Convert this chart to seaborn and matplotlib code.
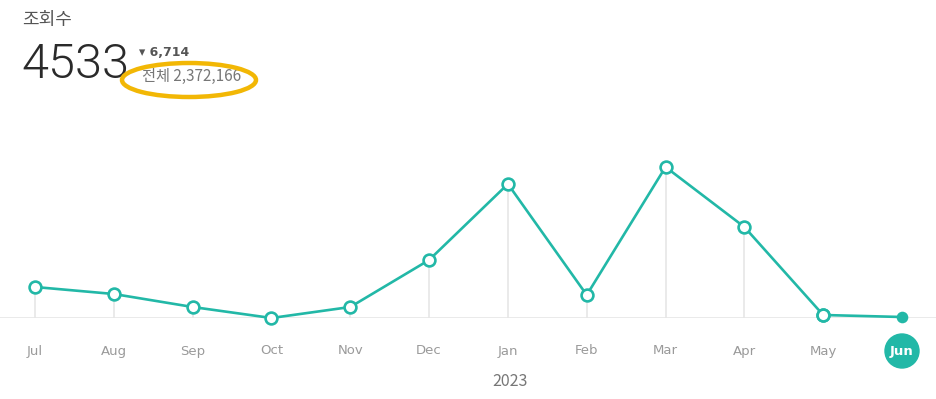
import matplotlib
matplotlib.use("Agg")
import matplotlib.pyplot as plt
from matplotlib.patches import Ellipse, Circle
import seaborn as sns
import pandas as pd

# Monthly views, Jul 2022 - Jun 2023
months = ["Jul", "Aug", "Sep", "Oct", "Nov", "Dec", "Jan", "Feb", "Mar", "Apr", "May", "Jun"]
views = [91000, 84000, 71000, 60000, 71000, 118000, 194000, 83000, 211000, 151000, 63000, 61000]

title_text = "조회수"
today_views = "4533"
change_text = "▾ 6,714"
total_text = "전체 2,372,166"
year_text = "2023"

TEAL = "#22b8a7"
GRID = "#e6e6e6"

sns.set_theme(style="white")
plt.rcParams["font.family"] = ["Noto Sans CJK KR", "DejaVu Sans"]

df = pd.DataFrame({"pos": range(len(months)), "month": months, "views": views})

W, H = 936, 399
fig = plt.figure(figsize=(W / 100, H / 100), dpi=100)
base_y, top_y = 318, 167
ax = fig.add_axes([0, 1 - base_y / H, 1, (base_y - top_y) / H])

step = (902 - 35) / 11
ax.set_xlim(-35 / step, 11 + (936 - 902) / step)
vmin, vmax = min(views), max(views)
ax.set_ylim(vmin, vmax)

# drop lines from each point to the baseline
ax.vlines(df["pos"], vmin, df["views"], color=GRID, lw=1.2, zorder=1)
ax.axhline(vmin, color=GRID, lw=1.2, zorder=1)

sns.lineplot(data=df.iloc[:-1], x="pos", y="views", ax=ax, color=TEAL, lw=1.9,
             marker="o", markersize=8.5, markerfacecolor="white",
             markeredgecolor=TEAL, markeredgewidth=1.9, zorder=3, clip_on=False)
# last segment to the current month
sns.lineplot(data=df.iloc[-2:], x="pos", y="views", ax=ax, color=TEAL, lw=1.9,
             zorder=2, clip_on=False)
ax.scatter(df["pos"].iloc[-1], df["views"].iloc[-1], s=70, color=TEAL,
           zorder=4, clip_on=False, linewidths=0)
# redraw May marker on top
ax.plot(df["pos"].iloc[-2], df["views"].iloc[-2], "o", ms=8.5, mfc="white",
        mec=TEAL, mew=1.9, zorder=5, clip_on=False)

ax.set_xticks(df["pos"])
ax.set_xticklabels([])
ax.set_yticks([])
ax.set_xlabel("")
ax.set_ylabel("")
for s in ax.spines.values():
    s.set_visible(False)
ax.tick_params(length=0)

label_y = 1 - 351 / H
for i, m in enumerate(months):
    xf = (35 + i * step) / W
    if i == len(months) - 1:
        fig.patches.append(Circle((902, H - 351), 17, transform=None,
                                  color=TEAL, zorder=5))
        fig.text(xf, label_y, m, ha="center", va="center", color="white",
                 fontsize=9.5, fontweight="bold", family="DejaVu Sans",
                 zorder=7)
    else:
        fig.text(xf, label_y, m, ha="center", va="center", color="#9a9a9a",
                 fontsize=9.5, family="DejaVu Sans")

fig.text(510 / W, 1 - 382 / H, year_text, ha="center", va="center",
         color="#777777", fontsize=11.5)

fig.text(22 / W, 1 - 20 / H, title_text, ha="left", va="center",
         color="#555555", fontsize=13)
fig.text(21 / W, 1 - 65 / H, today_views, ha="left", va="center",
         color="#2a2a2a", fontsize=35, family=["Roboto", "DejaVu Sans"],
         fontweight=300)
fig.text(139 / W, 1 - 53 / H, change_text, ha="left", va="center",
         color="#555555", fontsize=9, fontweight="bold",
         family=["DejaVu Sans"])
fig.text(142 / W, 1 - 76 / H, total_text, ha="left", va="center",
         color="#777777", fontsize=11)

fig.patches.append(Ellipse((189, H - 80), 134, 34, transform=None,
                           fill=False, edgecolor="#f2b705", lw=3.2, zorder=6))

fig.savefig("out.png", dpi=100, facecolor="white")
